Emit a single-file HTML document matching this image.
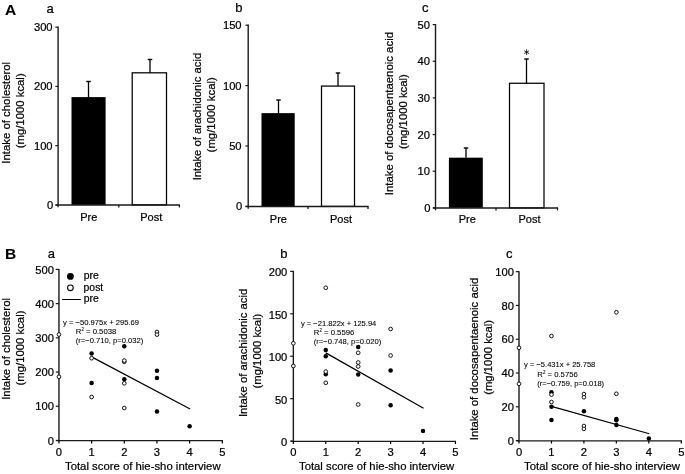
<!DOCTYPE html>
<html><head><meta charset="utf-8"><title>Figure</title>
<style>html,body{margin:0;padding:0;background:#fff}svg{display:block;will-change:transform;filter:grayscale(1)}text{font-family:"Liberation Sans",sans-serif;stroke:#000;stroke-width:0.22px}text.eq{stroke-width:0.08px}text.b{stroke-width:0.1px}</style>
</head><body>
<svg width="685" height="474" viewBox="0 0 685 474" font-family="Liberation Sans, sans-serif" fill="#000">
<rect width="685" height="474" fill="#fff"/>
<text x="4.90" y="14.80" font-size="15.5" text-anchor="start" font-weight="bold" class="b" >A</text>
<text x="4.90" y="259.00" font-size="15.5" text-anchor="start" font-weight="bold" class="b" >B</text>
<rect x="71.50" y="97.10" width="34.10" height="107.80" fill="#000"/>
<rect x="132.20" y="72.81" width="34.30" height="132.09" fill="#fff" stroke="#000" stroke-width="1.25"/>
<line x1="88.50" y1="81.50" x2="88.50" y2="97.10" stroke="#000" stroke-width="1.3" />
<line x1="86.25" y1="81.50" x2="90.75" y2="81.50" stroke="#000" stroke-width="1.4" />
<line x1="150.00" y1="59.50" x2="150.00" y2="72.81" stroke="#000" stroke-width="1.3" />
<line x1="147.75" y1="59.50" x2="152.25" y2="59.50" stroke="#000" stroke-width="1.4" />
<line x1="58.10" y1="26.60" x2="58.10" y2="207.20" stroke="#1a1a1a" stroke-width="1.4" />
<line x1="55.60" y1="204.90" x2="180.00" y2="204.90" stroke="#1a1a1a" stroke-width="1.45" />
<line x1="118.80" y1="204.90" x2="118.80" y2="207.40" stroke="#1a1a1a" stroke-width="1.3" />
<line x1="179.40" y1="204.90" x2="179.40" y2="207.40" stroke="#1a1a1a" stroke-width="1.3" />
<line x1="55.30" y1="204.90" x2="58.10" y2="204.90" stroke="#1a1a1a" stroke-width="1.2" />
<text x="53.20" y="208.90" font-size="11.2" text-anchor="end" >0</text>
<line x1="55.30" y1="145.67" x2="58.10" y2="145.67" stroke="#1a1a1a" stroke-width="1.2" />
<text x="52.60" y="149.67" font-size="11.2" text-anchor="end" >100</text>
<line x1="55.30" y1="86.43" x2="58.10" y2="86.43" stroke="#1a1a1a" stroke-width="1.2" />
<text x="52.60" y="90.43" font-size="11.2" text-anchor="end" >200</text>
<line x1="55.30" y1="27.20" x2="58.10" y2="27.20" stroke="#1a1a1a" stroke-width="1.2" />
<text x="52.60" y="31.20" font-size="11.2" text-anchor="end" >300</text>
<text x="88.70" y="221.00" font-size="11" text-anchor="middle" >Pre</text>
<text x="151.30" y="221.00" font-size="11" text-anchor="middle" >Post</text>
<text x="10.50" y="112.80" font-size="11.8" text-anchor="middle" textLength="101.80" lengthAdjust="spacingAndGlyphs" transform="rotate(-90 10.50 112.80)" >Intake of cholesterol</text>
<text x="24.30" y="110.80" font-size="11.8" text-anchor="middle" textLength="74.90" lengthAdjust="spacingAndGlyphs" transform="rotate(-90 24.30 110.80)" >(mg/1000 kcal)</text>
<text x="46.60" y="12.50" font-size="13" text-anchor="start" >a</text>
<rect x="261.50" y="113.14" width="33.20" height="93.26" fill="#000"/>
<rect x="321.50" y="86.08" width="33.00" height="120.32" fill="#fff" stroke="#000" stroke-width="1.25"/>
<line x1="278.50" y1="100.00" x2="278.50" y2="113.14" stroke="#000" stroke-width="1.3" />
<line x1="276.25" y1="100.00" x2="280.75" y2="100.00" stroke="#000" stroke-width="1.4" />
<line x1="338.00" y1="73.00" x2="338.00" y2="86.08" stroke="#000" stroke-width="1.3" />
<line x1="335.75" y1="73.00" x2="340.25" y2="73.00" stroke="#000" stroke-width="1.4" />
<line x1="248.20" y1="24.60" x2="248.20" y2="208.70" stroke="#1a1a1a" stroke-width="1.4" />
<line x1="245.70" y1="206.40" x2="368.60" y2="206.40" stroke="#1a1a1a" stroke-width="1.45" />
<line x1="308.00" y1="206.40" x2="308.00" y2="208.90" stroke="#1a1a1a" stroke-width="1.3" />
<line x1="368.00" y1="206.40" x2="368.00" y2="208.90" stroke="#1a1a1a" stroke-width="1.3" />
<line x1="245.40" y1="206.40" x2="248.20" y2="206.40" stroke="#1a1a1a" stroke-width="1.2" />
<text x="242.20" y="210.40" font-size="11.2" text-anchor="end" >0</text>
<line x1="245.40" y1="146.00" x2="248.20" y2="146.00" stroke="#1a1a1a" stroke-width="1.2" />
<text x="241.60" y="150.00" font-size="11.2" text-anchor="end" >50</text>
<line x1="245.40" y1="85.60" x2="248.20" y2="85.60" stroke="#1a1a1a" stroke-width="1.2" />
<text x="241.60" y="89.60" font-size="11.2" text-anchor="end" >100</text>
<line x1="245.40" y1="25.20" x2="248.20" y2="25.20" stroke="#1a1a1a" stroke-width="1.2" />
<text x="241.60" y="29.20" font-size="11.2" text-anchor="end" >150</text>
<text x="278.40" y="223.10" font-size="11" text-anchor="middle" >Pre</text>
<text x="341.00" y="223.10" font-size="11" text-anchor="middle" >Post</text>
<text x="200.90" y="116.50" font-size="11.8" text-anchor="middle" textLength="127.50" lengthAdjust="spacingAndGlyphs" transform="rotate(-90 200.90 116.50)" >Intake of arachidonic acid</text>
<text x="214.70" y="114.80" font-size="11.8" text-anchor="middle" textLength="75.20" lengthAdjust="spacingAndGlyphs" transform="rotate(-90 214.70 114.80)" >(mg/1000 kcal)</text>
<text x="235.30" y="12.30" font-size="13" text-anchor="start" >b</text>
<rect x="448.90" y="157.68" width="33.90" height="50.22" fill="#000"/>
<rect x="509.50" y="83.26" width="34.50" height="124.64" fill="#fff" stroke="#000" stroke-width="1.25"/>
<line x1="466.00" y1="148.00" x2="466.00" y2="157.68" stroke="#000" stroke-width="1.3" />
<line x1="463.75" y1="148.00" x2="468.25" y2="148.00" stroke="#000" stroke-width="1.4" />
<line x1="526.50" y1="59.00" x2="526.50" y2="83.26" stroke="#000" stroke-width="1.3" />
<line x1="524.25" y1="59.00" x2="528.75" y2="59.00" stroke="#000" stroke-width="1.4" />
<line x1="435.50" y1="24.00" x2="435.50" y2="210.20" stroke="#1a1a1a" stroke-width="1.4" />
<line x1="433.00" y1="207.90" x2="558.10" y2="207.90" stroke="#1a1a1a" stroke-width="1.45" />
<line x1="496.00" y1="207.90" x2="496.00" y2="210.40" stroke="#1a1a1a" stroke-width="1.3" />
<line x1="557.50" y1="207.90" x2="557.50" y2="210.40" stroke="#1a1a1a" stroke-width="1.3" />
<line x1="432.70" y1="207.90" x2="435.50" y2="207.90" stroke="#1a1a1a" stroke-width="1.2" />
<text x="430.60" y="211.90" font-size="11.2" text-anchor="end" >0</text>
<line x1="432.70" y1="171.24" x2="435.50" y2="171.24" stroke="#1a1a1a" stroke-width="1.2" />
<text x="430.00" y="175.24" font-size="11.2" text-anchor="end" >10</text>
<line x1="432.70" y1="134.58" x2="435.50" y2="134.58" stroke="#1a1a1a" stroke-width="1.2" />
<text x="430.00" y="138.58" font-size="11.2" text-anchor="end" >20</text>
<line x1="432.70" y1="97.92" x2="435.50" y2="97.92" stroke="#1a1a1a" stroke-width="1.2" />
<text x="430.00" y="101.92" font-size="11.2" text-anchor="end" >30</text>
<line x1="432.70" y1="61.26" x2="435.50" y2="61.26" stroke="#1a1a1a" stroke-width="1.2" />
<text x="430.00" y="65.26" font-size="11.2" text-anchor="end" >40</text>
<line x1="432.70" y1="24.60" x2="435.50" y2="24.60" stroke="#1a1a1a" stroke-width="1.2" />
<text x="430.00" y="28.60" font-size="11.2" text-anchor="end" >50</text>
<text x="467.20" y="223.30" font-size="11" text-anchor="middle" >Pre</text>
<text x="529.50" y="223.30" font-size="11" text-anchor="middle" >Post</text>
<text x="393.40" y="113.60" font-size="11.8" text-anchor="middle" textLength="163.20" lengthAdjust="spacingAndGlyphs" transform="rotate(-90 393.40 113.60)" >Intake of docosapentaenoic acid</text>
<text x="407.00" y="111.60" font-size="11.8" text-anchor="middle" textLength="75.00" lengthAdjust="spacingAndGlyphs" transform="rotate(-90 407.00 111.60)" >(mg/1000 kcal)</text>
<text x="422.00" y="12.30" font-size="13" text-anchor="start" >c</text>
<line x1="526.60" y1="49.30" x2="526.60" y2="55.10" stroke="#000" stroke-width="0.8" />
<line x1="524.20" y1="50.80" x2="529.00" y2="53.60" stroke="#000" stroke-width="0.8" />
<line x1="524.20" y1="53.60" x2="529.00" y2="50.80" stroke="#000" stroke-width="0.8" />
<line x1="58.95" y1="268.95" x2="58.95" y2="441.20" stroke="#1a1a1a" stroke-width="1.4" />
<line x1="56.45" y1="440.60" x2="222.85" y2="440.60" stroke="#1a1a1a" stroke-width="1.25" />
<line x1="58.95" y1="440.60" x2="58.95" y2="443.40" stroke="#000" stroke-width="1.2" />
<text x="58.95" y="455.50" font-size="11.2" text-anchor="middle" >0</text>
<line x1="91.62" y1="440.60" x2="91.62" y2="443.40" stroke="#000" stroke-width="1.2" />
<text x="91.62" y="455.50" font-size="11.2" text-anchor="middle" >1</text>
<line x1="124.29" y1="440.60" x2="124.29" y2="443.40" stroke="#000" stroke-width="1.2" />
<text x="124.29" y="455.50" font-size="11.2" text-anchor="middle" >2</text>
<line x1="156.96" y1="440.60" x2="156.96" y2="443.40" stroke="#000" stroke-width="1.2" />
<text x="156.96" y="455.50" font-size="11.2" text-anchor="middle" >3</text>
<line x1="189.63" y1="440.60" x2="189.63" y2="443.40" stroke="#000" stroke-width="1.2" />
<text x="189.63" y="455.50" font-size="11.2" text-anchor="middle" >4</text>
<line x1="222.30" y1="440.60" x2="222.30" y2="443.40" stroke="#000" stroke-width="1.2" />
<text x="222.30" y="455.50" font-size="11.2" text-anchor="middle" >5</text>
<line x1="55.75" y1="440.45" x2="58.95" y2="440.45" stroke="#1a1a1a" stroke-width="1.2" />
<text x="53.95" y="444.60" font-size="11.2" text-anchor="end" >0</text>
<line x1="55.75" y1="406.24" x2="58.95" y2="406.24" stroke="#1a1a1a" stroke-width="1.2" />
<text x="53.95" y="410.39" font-size="11.2" text-anchor="end" >100</text>
<line x1="55.75" y1="372.03" x2="58.95" y2="372.03" stroke="#1a1a1a" stroke-width="1.2" />
<text x="53.95" y="376.18" font-size="11.2" text-anchor="end" >200</text>
<line x1="55.75" y1="337.82" x2="58.95" y2="337.82" stroke="#1a1a1a" stroke-width="1.2" />
<text x="53.95" y="341.97" font-size="11.2" text-anchor="end" >300</text>
<line x1="55.75" y1="303.61" x2="58.95" y2="303.61" stroke="#1a1a1a" stroke-width="1.2" />
<text x="53.95" y="307.76" font-size="11.2" text-anchor="end" >400</text>
<line x1="55.75" y1="269.40" x2="58.95" y2="269.40" stroke="#1a1a1a" stroke-width="1.2" />
<text x="53.95" y="273.55" font-size="11.2" text-anchor="end" >500</text>
<line x1="91.62" y1="356.88" x2="190.13" y2="409.00" stroke="#000" stroke-width="1.2" />
<circle cx="91.62" cy="353.60" r="2.25" fill="#000"/>
<circle cx="91.62" cy="383.00" r="2.25" fill="#000"/>
<circle cx="124.29" cy="346.30" r="2.25" fill="#000"/>
<circle cx="124.29" cy="379.30" r="2.25" fill="#000"/>
<circle cx="156.96" cy="370.80" r="2.25" fill="#000"/>
<circle cx="156.96" cy="377.90" r="2.25" fill="#000"/>
<circle cx="156.96" cy="411.50" r="2.25" fill="#000"/>
<circle cx="189.63" cy="426.20" r="2.25" fill="#000"/>
<circle cx="58.95" cy="334.50" r="1.85" fill="#fff" stroke="#000" stroke-width="0.92"/>
<circle cx="58.95" cy="376.80" r="1.85" fill="#fff" stroke="#000" stroke-width="0.92"/>
<circle cx="91.62" cy="358.20" r="1.85" fill="#fff" stroke="#000" stroke-width="0.92"/>
<circle cx="91.62" cy="397.00" r="1.85" fill="#fff" stroke="#000" stroke-width="0.92"/>
<circle cx="124.29" cy="361.80" r="1.85" fill="#fff" stroke="#000" stroke-width="0.92"/>
<circle cx="124.29" cy="360.60" r="1.85" fill="#fff" stroke="#000" stroke-width="0.92"/>
<circle cx="124.29" cy="383.30" r="1.85" fill="#fff" stroke="#000" stroke-width="0.92"/>
<circle cx="124.29" cy="408.00" r="1.85" fill="#fff" stroke="#000" stroke-width="0.92"/>
<circle cx="156.96" cy="332.00" r="1.85" fill="#fff" stroke="#000" stroke-width="0.92"/>
<circle cx="156.96" cy="334.60" r="1.85" fill="#fff" stroke="#000" stroke-width="0.92"/>
<text x="63.00" y="324.50" font-size="8.0" text-anchor="start" textLength="76.00" lengthAdjust="spacingAndGlyphs" class="eq">y = −50.975x + 295.69</text>
<text class="eq" x="75.80" y="333.70" font-size="8.0" textLength="40.50" lengthAdjust="spacingAndGlyphs">R<tspan font-size="4.6" dy="-3">2</tspan><tspan dy="3"> = 0.5038</tspan></text>
<text x="75.80" y="342.50" font-size="8.0" text-anchor="start" textLength="67.50" lengthAdjust="spacingAndGlyphs" class="eq">(r=−0.710, p=0.032)</text>
<text x="9.80" y="348.90" font-size="11.8" text-anchor="middle" textLength="101.80" lengthAdjust="spacingAndGlyphs" transform="rotate(-90 9.80 348.90)" >Intake of cholesterol</text>
<text x="23.60" y="348.00" font-size="11.8" text-anchor="middle" textLength="74.90" lengthAdjust="spacingAndGlyphs" transform="rotate(-90 23.60 348.00)" >(mg/1000 kcal)</text>
<text x="47.80" y="257.50" font-size="13" text-anchor="start" >a</text>
<text x="65.00" y="469.70" font-size="11.8" text-anchor="start" textLength="155.60" lengthAdjust="spacingAndGlyphs" >Total score of hie-sho interview</text>
<circle cx="70.4" cy="276.4" r="3.4" fill="#000"/>
<circle cx="70.4" cy="287.8" r="2.85" fill="#fff" stroke="#000" stroke-width="1.1"/>
<line x1="62.10" y1="299.50" x2="80.80" y2="299.50" stroke="#000" stroke-width="1.0" />
<text x="83.70" y="279.00" font-size="10.4" text-anchor="start" >pre</text>
<text x="83.60" y="290.60" font-size="10.4" text-anchor="start" >post</text>
<text x="83.70" y="302.20" font-size="10.4" text-anchor="start" >pre</text>
<line x1="293.35" y1="270.90" x2="293.35" y2="441.85" stroke="#1a1a1a" stroke-width="1.4" />
<line x1="290.85" y1="441.25" x2="456.00" y2="441.25" stroke="#1a1a1a" stroke-width="1.25" />
<line x1="293.35" y1="441.25" x2="293.35" y2="444.05" stroke="#000" stroke-width="1.2" />
<text x="293.35" y="455.50" font-size="11.2" text-anchor="middle" >0</text>
<line x1="325.77" y1="441.25" x2="325.77" y2="444.05" stroke="#000" stroke-width="1.2" />
<text x="325.77" y="455.50" font-size="11.2" text-anchor="middle" >1</text>
<line x1="358.19" y1="441.25" x2="358.19" y2="444.05" stroke="#000" stroke-width="1.2" />
<text x="358.19" y="455.50" font-size="11.2" text-anchor="middle" >2</text>
<line x1="390.61" y1="441.25" x2="390.61" y2="444.05" stroke="#000" stroke-width="1.2" />
<text x="390.61" y="455.50" font-size="11.2" text-anchor="middle" >3</text>
<line x1="423.03" y1="441.25" x2="423.03" y2="444.05" stroke="#000" stroke-width="1.2" />
<text x="423.03" y="455.50" font-size="11.2" text-anchor="middle" >4</text>
<line x1="455.45" y1="441.25" x2="455.45" y2="444.05" stroke="#000" stroke-width="1.2" />
<text x="455.45" y="455.50" font-size="11.2" text-anchor="middle" >5</text>
<line x1="290.15" y1="441.10" x2="293.35" y2="441.10" stroke="#1a1a1a" stroke-width="1.2" />
<text x="287.35" y="446.05" font-size="11.2" text-anchor="end" >0</text>
<line x1="290.15" y1="398.66" x2="293.35" y2="398.66" stroke="#1a1a1a" stroke-width="1.2" />
<text x="287.35" y="403.61" font-size="11.2" text-anchor="end" >50</text>
<line x1="290.15" y1="356.23" x2="293.35" y2="356.23" stroke="#1a1a1a" stroke-width="1.2" />
<text x="287.35" y="361.18" font-size="11.2" text-anchor="end" >100</text>
<line x1="290.15" y1="313.79" x2="293.35" y2="313.79" stroke="#1a1a1a" stroke-width="1.2" />
<text x="287.35" y="318.74" font-size="11.2" text-anchor="end" >150</text>
<line x1="290.15" y1="271.35" x2="293.35" y2="271.35" stroke="#1a1a1a" stroke-width="1.2" />
<text x="287.35" y="276.30" font-size="11.2" text-anchor="end" >200</text>
<line x1="325.77" y1="352.88" x2="423.53" y2="408.24" stroke="#000" stroke-width="1.2" />
<circle cx="325.77" cy="350.00" r="2.25" fill="#000"/>
<circle cx="325.77" cy="356.30" r="2.25" fill="#000"/>
<circle cx="325.77" cy="374.30" r="2.25" fill="#000"/>
<circle cx="358.19" cy="347.00" r="2.25" fill="#000"/>
<circle cx="358.19" cy="374.50" r="2.25" fill="#000"/>
<circle cx="390.61" cy="370.50" r="2.25" fill="#000"/>
<circle cx="390.61" cy="405.30" r="2.25" fill="#000"/>
<circle cx="423.03" cy="431.00" r="2.25" fill="#000"/>
<circle cx="293.35" cy="343.30" r="1.85" fill="#fff" stroke="#000" stroke-width="0.92"/>
<circle cx="293.35" cy="366.00" r="1.85" fill="#fff" stroke="#000" stroke-width="0.92"/>
<circle cx="325.77" cy="287.80" r="1.85" fill="#fff" stroke="#000" stroke-width="0.92"/>
<circle cx="325.77" cy="371.60" r="1.85" fill="#fff" stroke="#000" stroke-width="0.92"/>
<circle cx="325.77" cy="382.80" r="1.85" fill="#fff" stroke="#000" stroke-width="0.92"/>
<circle cx="358.19" cy="352.80" r="1.85" fill="#fff" stroke="#000" stroke-width="0.92"/>
<circle cx="358.19" cy="362.50" r="1.85" fill="#fff" stroke="#000" stroke-width="0.92"/>
<circle cx="358.19" cy="366.50" r="1.85" fill="#fff" stroke="#000" stroke-width="0.92"/>
<circle cx="358.19" cy="404.50" r="1.85" fill="#fff" stroke="#000" stroke-width="0.92"/>
<circle cx="390.61" cy="329.00" r="1.85" fill="#fff" stroke="#000" stroke-width="0.92"/>
<circle cx="390.61" cy="355.50" r="1.85" fill="#fff" stroke="#000" stroke-width="0.92"/>
<text x="301.00" y="325.70" font-size="8.0" text-anchor="start" textLength="75.30" lengthAdjust="spacingAndGlyphs" class="eq">y = −21.822x + 125.94</text>
<text class="eq" x="313.80" y="334.90" font-size="8.0" textLength="40.50" lengthAdjust="spacingAndGlyphs">R<tspan font-size="4.6" dy="-3">2</tspan><tspan dy="3"> = 0.5596</tspan></text>
<text x="313.80" y="343.90" font-size="8.0" text-anchor="start" textLength="67.50" lengthAdjust="spacingAndGlyphs" class="eq">(r=−0.748, p=0.020)</text>
<text x="247.50" y="352.90" font-size="11.8" text-anchor="middle" textLength="128.40" lengthAdjust="spacingAndGlyphs" transform="rotate(-90 247.50 352.90)" >Intake of arachidonic acid</text>
<text x="260.60" y="351.10" font-size="11.8" text-anchor="middle" textLength="74.90" lengthAdjust="spacingAndGlyphs" transform="rotate(-90 260.60 351.10)" >(mg/1000 kcal)</text>
<text x="280.20" y="257.50" font-size="13" text-anchor="start" >b</text>
<text x="299.00" y="469.70" font-size="11.8" text-anchor="start" textLength="155.20" lengthAdjust="spacingAndGlyphs" >Total score of hie-sho interview</text>
<line x1="519.00" y1="271.20" x2="519.00" y2="441.35" stroke="#1a1a1a" stroke-width="1.4" />
<line x1="516.50" y1="440.75" x2="681.85" y2="440.75" stroke="#1a1a1a" stroke-width="1.25" />
<line x1="519.00" y1="440.75" x2="519.00" y2="443.55" stroke="#000" stroke-width="1.2" />
<text x="519.00" y="455.50" font-size="11.2" text-anchor="middle" >0</text>
<line x1="551.46" y1="440.75" x2="551.46" y2="443.55" stroke="#000" stroke-width="1.2" />
<text x="551.46" y="455.50" font-size="11.2" text-anchor="middle" >1</text>
<line x1="583.92" y1="440.75" x2="583.92" y2="443.55" stroke="#000" stroke-width="1.2" />
<text x="583.92" y="455.50" font-size="11.2" text-anchor="middle" >2</text>
<line x1="616.38" y1="440.75" x2="616.38" y2="443.55" stroke="#000" stroke-width="1.2" />
<text x="616.38" y="455.50" font-size="11.2" text-anchor="middle" >3</text>
<line x1="648.84" y1="440.75" x2="648.84" y2="443.55" stroke="#000" stroke-width="1.2" />
<text x="648.84" y="455.50" font-size="11.2" text-anchor="middle" >4</text>
<line x1="681.30" y1="440.75" x2="681.30" y2="443.55" stroke="#000" stroke-width="1.2" />
<text x="681.30" y="455.50" font-size="11.2" text-anchor="middle" >5</text>
<line x1="515.80" y1="440.60" x2="519.00" y2="440.60" stroke="#1a1a1a" stroke-width="1.2" />
<text x="514.00" y="444.75" font-size="11.2" text-anchor="end" >0</text>
<line x1="515.80" y1="406.81" x2="519.00" y2="406.81" stroke="#1a1a1a" stroke-width="1.2" />
<text x="514.00" y="410.96" font-size="11.2" text-anchor="end" >20</text>
<line x1="515.80" y1="373.02" x2="519.00" y2="373.02" stroke="#1a1a1a" stroke-width="1.2" />
<text x="514.00" y="377.17" font-size="11.2" text-anchor="end" >40</text>
<line x1="515.80" y1="339.23" x2="519.00" y2="339.23" stroke="#1a1a1a" stroke-width="1.2" />
<text x="514.00" y="343.38" font-size="11.2" text-anchor="end" >60</text>
<line x1="515.80" y1="305.44" x2="519.00" y2="305.44" stroke="#1a1a1a" stroke-width="1.2" />
<text x="514.00" y="309.59" font-size="11.2" text-anchor="end" >80</text>
<line x1="515.80" y1="271.65" x2="519.00" y2="271.65" stroke="#1a1a1a" stroke-width="1.2" />
<text x="514.00" y="275.80" font-size="11.2" text-anchor="end" >100</text>
<line x1="551.46" y1="406.41" x2="649.34" y2="433.73" stroke="#000" stroke-width="1.2" />
<circle cx="551.46" cy="392.30" r="2.25" fill="#000"/>
<circle cx="551.46" cy="406.80" r="2.25" fill="#000"/>
<circle cx="551.46" cy="420.00" r="2.25" fill="#000"/>
<circle cx="583.92" cy="411.30" r="2.25" fill="#000"/>
<circle cx="616.38" cy="419.00" r="2.25" fill="#000"/>
<circle cx="616.38" cy="420.30" r="2.25" fill="#000"/>
<circle cx="616.38" cy="425.00" r="2.25" fill="#000"/>
<circle cx="648.84" cy="438.60" r="2.25" fill="#000"/>
<circle cx="519.00" cy="347.80" r="1.85" fill="#fff" stroke="#000" stroke-width="0.92"/>
<circle cx="519.00" cy="383.80" r="1.85" fill="#fff" stroke="#000" stroke-width="0.92"/>
<circle cx="551.46" cy="336.00" r="1.85" fill="#fff" stroke="#000" stroke-width="0.92"/>
<circle cx="551.46" cy="394.60" r="1.85" fill="#fff" stroke="#000" stroke-width="0.92"/>
<circle cx="551.46" cy="402.00" r="1.85" fill="#fff" stroke="#000" stroke-width="0.92"/>
<circle cx="616.38" cy="312.30" r="1.85" fill="#fff" stroke="#000" stroke-width="0.92"/>
<circle cx="616.38" cy="393.80" r="1.85" fill="#fff" stroke="#000" stroke-width="0.92"/>
<circle cx="583.92" cy="394.00" r="1.8" fill="#fff" stroke="#000" stroke-width="0.92"/>
<circle cx="583.92" cy="397.30" r="1.8" fill="#fff" stroke="#000" stroke-width="0.92"/>
<circle cx="583.92" cy="426.00" r="1.8" fill="#fff" stroke="#000" stroke-width="0.92"/>
<circle cx="583.92" cy="428.90" r="1.8" fill="#fff" stroke="#000" stroke-width="0.92"/>
<text x="524.00" y="367.40" font-size="8.0" text-anchor="start" textLength="71.30" lengthAdjust="spacingAndGlyphs" class="eq">y = −5.431x + 25.758</text>
<text class="eq" x="537.30" y="376.70" font-size="8.0" textLength="40.50" lengthAdjust="spacingAndGlyphs">R<tspan font-size="4.6" dy="-3">2</tspan><tspan dy="3"> = 0.5756</tspan></text>
<text x="537.30" y="385.70" font-size="8.0" text-anchor="start" textLength="66.80" lengthAdjust="spacingAndGlyphs" class="eq">(r=−0.759, p=0.018)</text>
<text x="478.30" y="359.00" font-size="11.8" text-anchor="middle" textLength="162.40" lengthAdjust="spacingAndGlyphs" transform="rotate(-90 478.30 359.00)" >Intake of docosapentaenoic acid</text>
<text x="491.80" y="357.40" font-size="11.8" text-anchor="middle" textLength="74.90" lengthAdjust="spacingAndGlyphs" transform="rotate(-90 491.80 357.40)" >(mg/1000 kcal)</text>
<text x="506.00" y="257.50" font-size="13" text-anchor="start" >c</text>
<text x="524.00" y="469.70" font-size="11.8" text-anchor="start" textLength="156.00" lengthAdjust="spacingAndGlyphs" >Total score of hie-sho interview</text>
</svg>
</body></html>
